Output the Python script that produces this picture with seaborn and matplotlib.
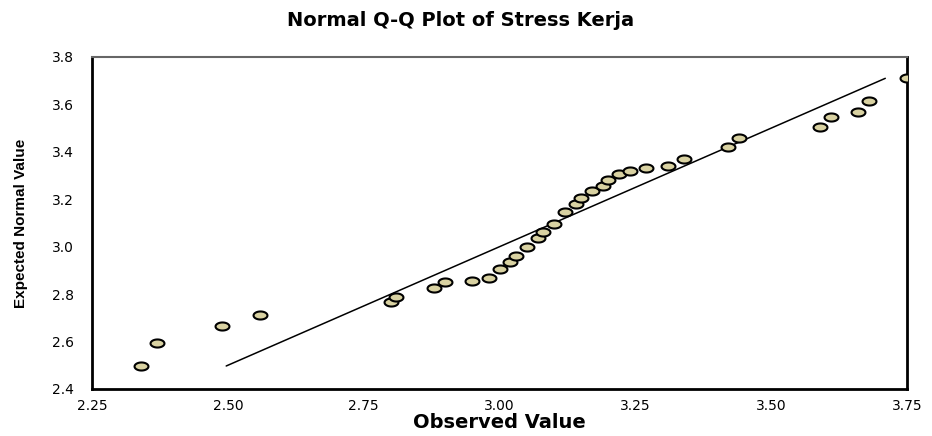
import numpy as np
import pandas as pd
import matplotlib
matplotlib.use('Agg')
import matplotlib.pyplot as plt
from matplotlib.path import Path
import seaborn as sns

# values
observed = [2.34, 2.37, 2.49, 2.56, 2.80, 2.81, 2.88, 2.90, 2.95, 2.98,
            3.00, 3.02, 3.03, 3.05, 3.07, 3.08, 3.10, 3.12, 3.14, 3.15,
            3.17, 3.19, 3.20, 3.22, 3.24, 3.27, 3.31, 3.34, 3.42, 3.44,
            3.59, 3.61, 3.66, 3.68, 3.75]
expected = [2.497, 2.595, 2.665, 2.71, 2.765, 2.79, 2.825, 2.85, 2.855, 2.87,
            2.905, 2.935, 2.96, 3.00, 3.035, 3.06, 3.095, 3.145, 3.18, 3.205,
            3.235, 3.255, 3.28, 3.305, 3.32, 3.33, 3.34, 3.37, 3.42, 3.46,
            3.505, 3.545, 3.57, 3.615, 3.71]
x_ticks = [2.25, 2.50, 2.75, 3.00, 3.25, 3.50, 3.75]
y_ticks = [2.4, 2.6, 2.8, 3.0, 3.2, 3.4, 3.6, 3.8]

df = pd.DataFrame({'Observed Value': observed, 'Expected Normal Value': expected})
lo, hi = min(expected), max(expected)
ref = pd.DataFrame({'x': [lo, hi], 'y': [lo, hi]})

sns.set_style('white')
plt.rcParams['font.family'] = ['DejaVu Sans']
plt.rcParams['text.color'] = 'black'
plt.rcParams['axes.labelcolor'] = 'black'
plt.rcParams['xtick.labelcolor'] = 'black'
plt.rcParams['ytick.labelcolor'] = 'black'

# wide ellipse marker like the SPSS dots
t = np.linspace(0, 2 * np.pi, 60)
ellipse = Path(np.column_stack([np.cos(t), 0.58 * np.sin(t)]), closed=True)

fig = plt.figure(figsize=(9.32, 4.36), dpi=100)
ax = fig.add_axes([0.0987, 0.1078, 0.8745, 0.7615])

sns.lineplot(data=ref, x='x', y='y', color='black', linewidth=1.1, ax=ax)
sns.scatterplot(data=df, x='Observed Value', y='Expected Normal Value',
                marker=ellipse, s=100, color='#d9d2a2', edgecolor='black',
                linewidth=1.5, ax=ax, zorder=3)

ax.set_xlim(2.25, 3.75)
ax.set_ylim(2.4, 3.8)
ax.set_xticks(x_ticks)
ax.set_xticklabels([f'{v:.2f}' for v in x_ticks])
ax.set_yticks(y_ticks)
ax.set_yticklabels([f'{v:.1f}' for v in y_ticks])
ax.tick_params(axis='y', direction='out', length=12, width=1.2, color='#666666',
               labelsize=10, pad=1)
ax.tick_params(axis='x', direction='out', length=5, width=1.5, color='black',
               labelsize=10, pad=2)

for side in ['left', 'bottom', 'right']:
    ax.spines[side].set_color('black')
    ax.spines[side].set_linewidth(2)
ax.spines['top'].set_color('#666666')
ax.spines['top'].set_linewidth(1.5)

ax.set_xlabel('Observed Value', fontsize=14, fontweight='bold', labelpad=0)
ax.set_ylabel('Expected Normal Value', fontsize=11, fontweight='bold',
              family=['Liberation Sans'], labelpad=17)
fig.suptitle('Normal Q-Q Plot of Stress Kerja', fontsize=14, fontweight='bold',
             x=0.494, y=0.975)

fig.savefig('out.png', dpi=100)
